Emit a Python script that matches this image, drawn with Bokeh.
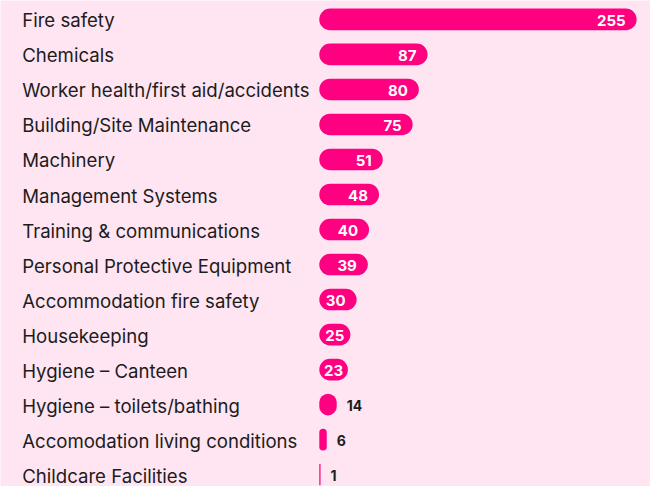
from bokeh.plotting import figure
from bokeh.models import ColumnDataSource, Range1d
from bokeh.core.properties import value
from bokeh.embed import file_html
from bokeh.resources import INLINE

categories = [
    "Fire safety",
    "Chemicals",
    "Worker health/first aid/accidents",
    "Building/Site Maintenance",
    "Machinery",
    "Management Systems",
    "Training & communications",
    "Personal Protective Equipment",
    "Accommodation fire safety",
    "Housekeeping",
    "Hygiene \u2013 Canteen",
    "Hygiene \u2013 toilets/bathing",
    "Accomodation living conditions",
    "Childcare Facilities",
]
counts = [255, 87, 80, 75, 51, 48, 40, 39, 30, 25, 23, 14, 6, 1]

BG = "#FFE4F2"
BAR = "#FF0080"
DARK = "#1C1C1C"
FONT = "Inter"

W, H = 650, 486
bar_x0 = 318.8          # screen px of value 0 inside the figure
px_per_unit = (636.1 - 318.8) / 255.0
row_px = 35.02
first_row_px = 18.9
bar_h_px = 21.6
label_x = 21.7

x_start = -bar_x0 / px_per_unit
x_end = (W - bar_x0) / px_per_unit
y_top = -first_row_px / row_px
y_bottom = (H - first_row_px) / row_px

idx = list(range(len(categories)))

p = figure(width=W, height=H, output_backend="svg", toolbar_location=None,
           x_range=Range1d(x_start, x_end), y_range=Range1d(y_bottom, y_top),
           min_border=0, outline_line_color=None,
           background_fill_color=BG, border_fill_color=BG)
p.axis.visible = False
p.grid.visible = False

src = ColumnDataSource(dict(y=idx, v=counts, cat=categories))
p.hbar(y="y", left=0, right="v", height=bar_h_px / row_px, source=src,
       fill_color=BAR, line_color=None, border_radius=11)

p.text(x=0, y="y", text="cat", source=src, x_offset=-(bar_x0 - label_x), y_offset=1,
       text_align="left", text_baseline="middle", text_color=DARK,
       text_font=value(FONT), text_font_size="18.6px")

# value labels
inside_r = dict(y=[], v=[], t=[])
inside_c = dict(y=[], v=[], t=[])
outside = dict(y=[], v=[], t=[])
for i, c in zip(idx, counts):
    w = c * px_per_unit
    if w < 25:
        outside["y"].append(i); outside["v"].append(c); outside["t"].append(str(c))
    elif w < 36:
        inside_c["y"].append(i); inside_c["v"].append(c / 2); inside_c["t"].append(str(c))
    else:
        inside_r["y"].append(i); inside_r["v"].append(c); inside_r["t"].append(str(c))

p.text(x="v", y="y", text="t", source=ColumnDataSource(inside_r), x_offset=-11, y_offset=1,
       text_align="right", text_baseline="middle", text_color="white",
       text_font=value(FONT), text_font_style="bold", text_font_size="15px")
p.text(x="v", y="y", text="t", source=ColumnDataSource(inside_c), x_offset=0, y_offset=1,
       text_align="center", text_baseline="middle", text_color="white",
       text_font=value(FONT), text_font_style="bold", text_font_size="15px")
p.text(x="v", y="y", text="t", source=ColumnDataSource(outside), x_offset=10, y_offset=1,
       text_align="left", text_baseline="middle", text_color=DARK,
       text_font=value(FONT), text_font_style="bold", text_font_size="14px")

html = file_html(p, INLINE)
html = html.replace("<body>", '<body style="background:%s;">' % BG, 1)
open("out.html", "w").write(html)
